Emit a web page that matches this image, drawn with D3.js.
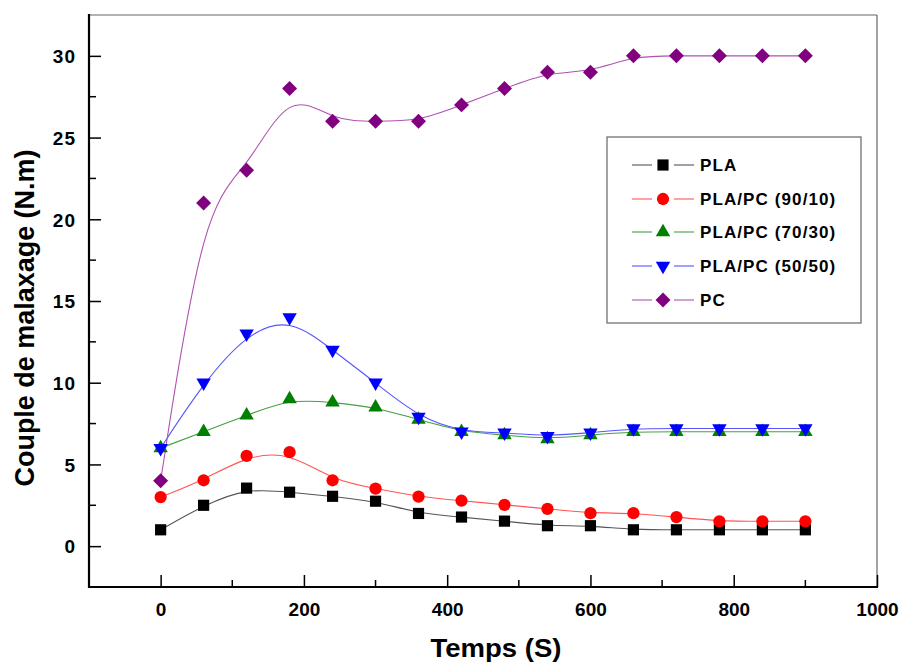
<!DOCTYPE html>
<html>
<head>
<meta charset="utf-8">
<script src="https://cdn.jsdelivr.net/npm/d3@7"></script>
<style>
  html, body { margin: 0; padding: 0; background: #fff; }
  text { font-family: "Liberation Sans", Arial, sans-serif; font-weight: bold; }
</style>
</head>
<body>
<svg id="chart" width="902" height="663"></svg>
<script>
// ---- data ----
const times = [0, 60, 120, 180, 240, 300, 360, 420, 480, 540, 600, 660, 720, 780, 840, 900];
const seriesNames = ["PLA", "PLA/PC (90/10)", "PLA/PC (70/30)", "PLA/PC (50/50)", "PC"];
const pla    = [1, 2.5, 3.55, 3.3, 3.05, 2.75, 2, 1.78, 1.53, 1.25, 1.25, 1, 1, 1, 1, 1];
const pc9010 = [3, 4.03, 5.52, 5.75, 4.03, 3.52, 3.03, 2.78, 2.53, 2.28, 2.02, 2.02, 1.78, 1.52, 1.52, 1.52];
const pc7030 = [6, 7, 8, 9, 8.8, 8.5, 7.75, 7, 6.8, 6.55, 6.8, 7, 7, 7, 7, 7];
const pc5050 = [6, 10, 13, 14, 12, 10, 7.9, 7, 6.94, 6.73, 6.94, 7.2, 7.2, 7.2, 7.2, 7.2];
const pcOnly = [4, 21, 23, 28, 26, 26, 26, 27, 28, 29, 29, 30, 30, 30, 30, 30];
const xTicks = [0, 200, 400, 600, 800, 1000];
const xMinor = [100, 300, 500, 700, 900];
const yTicks = [0, 5, 10, 15, 20, 25, 30];
const yMinor = [2.5, 7.5, 12.5, 17.5, 22.5, 27.5];
const xTitle = "Temps (S)";
const yTitle = "Couple de malaxage (N.m)";

// ---- styles ----
const markerColors = ["#000000", "#ff0000", "#008000", "#0000ff", "#800080"];
const lineColors = ["#555555", "#ff5555", "#45a045", "#5555ff", "#b052b0"];
const symbols = [
  {type: d3.symbolSquare, size: 125, rot: 0},
  {type: d3.symbolCircle, size: 118, rot: 0},
  {type: d3.symbolTriangle, size: 90, rot: 0},
  {type: d3.symbolTriangle, size: 90, rot: 180},
  {type: d3.symbolSquare, size: 112, rot: 45}
];
const allSeries = [pla, pc9010, pc7030, pc5050, pcOnly];

const svg = d3.select("#chart");
svg.append("rect").attr("width", 902).attr("height", 663).attr("fill", "#ffffff");

const L = 89, R = 877, T = 15, B = 587;
const x = d3.scaleLinear().domain([-100, 1000]).range([L, R]);
const y = d3.scaleLinear().domain([-2.5, 32.5]).range([B, T]);

// frame top/right
svg.append("line").attr("x1", L).attr("x2", R).attr("y1", T).attr("y2", T)
  .attr("stroke", "#666").attr("stroke-width", 1.2);
svg.append("line").attr("x1", R).attr("x2", R).attr("y1", T).attr("y2", B)
  .attr("stroke", "#666").attr("stroke-width", 1.2);

// x axis
const gx = svg.append("g").attr("transform", `translate(0,${B})`);
gx.call(d3.axisBottom(x).tickValues(xTicks).tickSize(-12).tickPadding(0).tickFormat(d3.format("d")));
gx.select(".domain").remove();
gx.selectAll(".tick line").attr("stroke", "#000").attr("stroke-width", 1.5);
gx.selectAll(".tick text").attr("y", 29).attr("dy", 0).attr("font-size", 19).attr("fill", "#000");
xMinor.forEach(v => gx.append("line").attr("x1", x(v)).attr("x2", x(v)).attr("y1", 0).attr("y2", -7)
  .attr("stroke", "#000").attr("stroke-width", 1.5));
svg.append("line").attr("x1", L - 1).attr("x2", R + 1).attr("y1", B).attr("y2", B)
  .attr("stroke", "#000").attr("stroke-width", 2.2);

// y axis
const gy = svg.append("g").attr("transform", `translate(${L},0)`);
gy.call(d3.axisLeft(y).tickValues(yTicks).tickSize(-12).tickPadding(0).tickFormat(d3.format("d")));
gy.select(".domain").remove();
gy.selectAll(".tick line").attr("stroke", "#000").attr("stroke-width", 1.5);
gy.selectAll(".tick text").attr("x", -13).attr("dy", "0.36em").attr("font-size", 19)
  .attr("letter-spacing", 1).attr("fill", "#000");
yMinor.forEach(v => gy.append("line").attr("x1", 0).attr("x2", 7).attr("y1", y(v)).attr("y2", y(v))
  .attr("stroke", "#000").attr("stroke-width", 1.5));
svg.append("line").attr("x1", L).attr("x2", L).attr("y1", T - 1).attr("y2", B + 1)
  .attr("stroke", "#000").attr("stroke-width", 2.2);

// titles
svg.append("text").attr("x", 496).attr("y", 657).attr("text-anchor", "middle")
  .attr("font-size", 25).attr("textLength", 131).attr("lengthAdjust", "spacingAndGlyphs")
  .attr("fill", "#000").text(xTitle);
svg.append("text").attr("transform", "translate(34,318) rotate(-90)").attr("text-anchor", "middle")
  .attr("font-size", 27).attr("textLength", 337).attr("lengthAdjust", "spacingAndGlyphs")
  .attr("fill", "#000").text(yTitle);

// curves
const line = d3.line().x(d => x(d[0])).y(d => y(d[1])).curve(d3.curveBasis);
allSeries.forEach((vals, i) => {
  const pts = times.map((t, k) => [t, vals[k]]);
  svg.append("path").attr("d", line(pts)).attr("fill", "none")
    .attr("stroke", lineColors[i]).attr("stroke-width", 1.1);
});
allSeries.forEach((vals, i) => {
  const s = symbols[i];
  const path = d3.symbol().type(s.type).size(s.size)();
  svg.append("g").selectAll("path").data(times.map((t, k) => [t, vals[k]])).join("path")
    .attr("d", path)
    .attr("transform", d => `translate(${x(d[0])},${y(d[1])}) rotate(${s.rot})`)
    .attr("fill", markerColors[i]);
});

// legend
const lg = svg.append("g");
lg.append("rect").attr("x", 607).attr("y", 137).attr("width", 254).attr("height", 186)
  .attr("fill", "#fff").attr("stroke", "#666").attr("stroke-width", 1.2);
const rowY = [165, 199, 232, 266, 300];
seriesNames.forEach((name, i) => {
  const ry = rowY[i];
  lg.append("line").attr("x1", 632).attr("x2", 652).attr("y1", ry).attr("y2", ry)
    .attr("stroke", lineColors[i]).attr("stroke-width", 1.1);
  lg.append("line").attr("x1", 674).attr("x2", 694).attr("y1", ry).attr("y2", ry)
    .attr("stroke", lineColors[i]).attr("stroke-width", 1.1);
  const s = symbols[i];
  lg.append("path").attr("d", d3.symbol().type(s.type).size(s.size)())
    .attr("transform", `translate(663,${ry}) rotate(${s.rot})`).attr("fill", markerColors[i]);
  lg.append("text").attr("x", 700).attr("y", ry + 6).attr("font-size", 17)
    .attr("letter-spacing", 1.1).attr("fill", "#000").text(name);
});
</script>
</body>
</html>
